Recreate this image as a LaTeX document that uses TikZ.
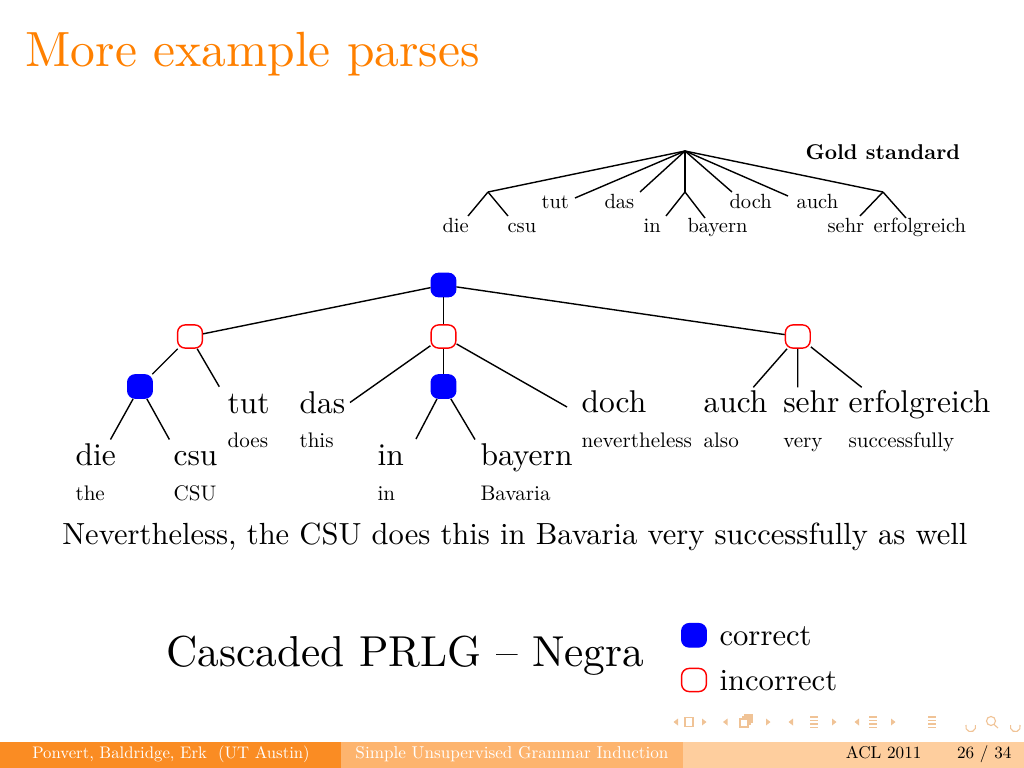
\documentclass[tikz,border=0pt]{standalone}
\usepackage{fontspec}
\setmainfont{lmroman10-regular}[Extension=.otf, BoldFont=lmroman10-bold, ItalicFont=lmroman10-italic, BoldItalicFont=lmroman10-bolditalic]
\usepackage{tikz}
\definecolor{titleorange}{RGB}{255,128,0}
\definecolor{nodeblue}{RGB}{0,0,255}
\definecolor{foota}{RGB}{250,140,35}
\definecolor{footb}{RGB}{253,180,110}
\definecolor{footc}{RGB}{254,206,158}
\definecolor{navcol}{RGB}{240,195,150}
\begin{document}
\begin{tikzpicture}[x=0.125mm,y=-0.125mm,
  good/.style={rectangle, rounded corners=0.95mm, fill=nodeblue, draw=nodeblue, line width=0.4pt, minimum width=3.1mm, minimum height=2.95mm, inner sep=0pt},
  bad/.style={rectangle, rounded corners=0.95mm, fill=white, draw=red, line width=0.5pt, minimum width=3.1mm, minimum height=2.9mm, inner sep=0pt},
  edge/.style={line width=0.5pt},
  bigword/.style={font=\fontsize{11.2}{13}\selectfont, anchor=base west, inner sep=0pt},
  gloss/.style={font=\fontsize{7.5}{9}\selectfont, anchor=base west, inner sep=0pt},
  goldword/.style={font=\fontsize{7.3}{9}\selectfont, anchor=base west, inner sep=0pt},
  foottext/.style={font=\fontsize{6.1}{7}\selectfont, inner sep=0pt},
  navline/.style={draw=navcol, line width=0.4pt}
]
\useasboundingbox (0,0) rectangle (1024,768);

% title
\node[anchor=base west, inner sep=0pt, text=titleorange, font=\fontsize{17.6}{20}\selectfont] (title) at (25,66) {More example parses};

% ---------------- gold standard tree ----------------
\node[anchor=base west, inner sep=0pt, font=\bfseries\fontsize{7.6}{9}\selectfont] (gold) at (805,160) {Gold standard};
\coordinate (g0) at (685,151);
\coordinate (g1) at (488,192);
\coordinate (g2) at (685,192);
\coordinate (g3) at (883,192);
\node[goldword] (gdie) at (442,232) {die};
\node[goldword] (gcsu) at (507,232) {csu};
\node[goldword] (gtut) at (541,208) {tut};
\node[goldword] (gdas) at (604,208) {das};
\node[goldword] (gin) at (643,232) {in};
\node[goldword] (gbay) at (687,232) {bayern};
\node[goldword] (gdoch) at (729,208) {doch};
\node[goldword] (gauch) at (796,208) {auch};
\node[goldword] (gsehr) at (827,232) {sehr};
\node[goldword] (gerf) at (873,232) {erfolgreich};
\coordinate (gtutE) at (575,198);
\coordinate (gdasE) at (640,192);
\coordinate (gdochE) at (732,192);
\coordinate (gauchE) at (788,196);
\coordinate (gdieE) at (468,216);
\coordinate (gcsuE) at (508,216);
\coordinate (ginE) at (666,216);
\coordinate (gbayE) at (705,218);
\coordinate (gsehrE) at (860,216);
\coordinate (gerfE) at (906,218);
\draw[edge] (g0) -- (g1);
\draw[edge] (g0) -- (gtutE);
\draw[edge] (g0) -- (gdasE);
\draw[edge] (g0) -- (g2);
\draw[edge] (g0) -- (gdochE);
\draw[edge] (g0) -- (gauchE);
\draw[edge] (g0) -- (g3);
\draw[edge] (g1) -- (gdieE);
\draw[edge] (g1) -- (gcsuE);
\draw[edge] (g2) -- (ginE);
\draw[edge] (g2) -- (gbayE);
\draw[edge] (g3) -- (gsehrE);
\draw[edge] (g3) -- (gerfE);

% ---------------- induced tree ----------------
\node[good] (root) at (443.5,285) {};
\node[bad] (rl) at (190,336.5) {};
\node[bad] (rm) at (443.5,336.5) {};
\node[bad] (rr) at (797.8,336.5) {};
\node[good] (bl) at (140,386.5) {};
\node[good] (bm) at (443.5,386.5) {};

\node[bigword] (wdie) at (75,465) {die};
\node[bigword] (wcsu) at (173,465) {csu};
\node[bigword] (wtut) at (227,413) {tut};
\node[bigword] (wdas) at (299,413) {das};
\node[bigword] (win) at (377,465) {in};
\node[bigword] (wbay) at (480,465) {bayern};
\node[bigword] (wdoch) at (581,412) {doch};
\node[bigword] (wauch) at (703,412) {auch};
\node[bigword] (wsehr) at (782.7,412) {sehr};
\node[bigword] (werf) at (848,412) {erfolgreich};

\node[gloss] (tthe) at (75,500) {the};
\node[gloss] (tcsu) at (173,500) {CSU};
\node[gloss] (tdoes) at (227,447) {does};
\node[gloss] (tthis) at (299,447) {this};
\node[gloss] (tin) at (377,500) {in};
\node[gloss] (tbav) at (480,500) {Bavaria};
\node[gloss] (tnev) at (581,447) {nevertheless};
\node[gloss] (talso) at (703,447) {also};
\node[gloss] (tvery) at (782.7,447) {very};
\node[gloss] (tsucc) at (848,447) {successfully};

\coordinate (tutE) at (219.3,386.7);
\coordinate (dieE) at (110.5,439.5);
\coordinate (csuE) at (169.4,439.5);
\coordinate (dasE) at (350,402.5);
\coordinate (dochE) at (567,407);
\coordinate (inE) at (416,439);
\coordinate (bayE) at (475,439.5);
\coordinate (auchE) at (753.3,387.3);
\coordinate (sehrE) at (797.7,387.3);
\coordinate (erfE) at (861.7,387.3);

\draw[edge] (root) -- (rl);
\draw[edge] (root) -- (rm);
\draw[edge] (root) -- (rr);
\draw[edge] (rl) -- (bl);
\draw[edge] (rl) -- (tutE);
\draw[edge] (bl) -- (dieE);
\draw[edge] (bl) -- (csuE);
\draw[edge] (rm) -- (dasE);
\draw[edge] (rm) -- (bm);
\draw[edge] (rm) -- (dochE);
\draw[edge] (bm) -- (inE);
\draw[edge] (bm) -- (bayE);
\draw[edge] (rr) -- (auchE);
\draw[edge] (rr) -- (sehrE);
\draw[edge] (rr) -- (erfE);

% sentence
\node[anchor=base west, inner sep=0pt, font=\fontsize{10.87}{13}\selectfont] (sent) at (61.7,544.3) {Nevertheless, the CSU does this in Bavaria very successfully as well};

% caption and legend
\node[anchor=base west, inner sep=0pt, font=\fontsize{15.4}{18}\selectfont] (capt) at (166,666.7) {Cascaded PRLG -- Negra};
\node[good] (lgood) at (694,635.3) {};
\node[bad] (lbad) at (694,680) {};
\node[anchor=base west, inner sep=0pt, font=\fontsize{10.9}{13}\selectfont] (lgoodt) at (719,645) {correct};
\node[anchor=base west, inner sep=0pt, font=\fontsize{10.9}{13}\selectfont] (lbadt) at (719,690) {incorrect};

% navigation symbols
\foreach \x in {676,725.5,791,857} {\fill[navcol] (\x-2.5,722) -- (\x+2,718.5) -- (\x+2,725.5) -- cycle;}
\foreach \x in {704,768,834,893} {\fill[navcol] (\x+2.5,722) -- (\x-2,718.5) -- (\x-2,725.5) -- cycle;}
\draw[navline] (685,717.5) rectangle (693,726.5);
\draw[navline] (740,719) rectangle (748,727);
\draw[navline] (742,717) -- (750,717) -- (750,725);
\draw[navline] (744,715) -- (752,715) -- (752,723);
\foreach \x in {814,873,932} {
  \draw[navline] (\x-4,717) -- (\x+4,717);
  \draw[navline] (\x-4,720.5) -- (\x+4,720.5);
  \draw[navline] (\x-4,724) -- (\x+4,724);
  \draw[navline] (\x-4,727.5) -- (\x+4,727.5);
}
\draw[navline] (966,725) arc (200:-20:5);
\draw[navline] (991,721) circle (4.5);
\draw[navline] (994,724.5) -- (998,728);
\draw[navline] (1020,725) arc (-20:200:5);

% footline
\fill[foota] (0,742) rectangle (341.3,768);
\fill[footb] (341.3,742) rectangle (682.7,768);
\fill[footc] (682.7,742) rectangle (1024,768);
\node[foottext, text=white, anchor=base, font=\fontsize{5.95}{7}\selectfont] (fauth) at (171,758.5) {Ponvert, Baldridge, Erk~~(UT Austin)};
\node[foottext, text=white, anchor=base] (ftitle) at (512,758.5) {Simple Unsupervised Grammar Induction};
\node[foottext, text=black, anchor=base east] (fdate) at (922,758.5) {ACL 2011};
\node[foottext, text=black, anchor=base east] (fnum) at (1012,758.5) {26 / 34};
\end{tikzpicture}
\end{document}
